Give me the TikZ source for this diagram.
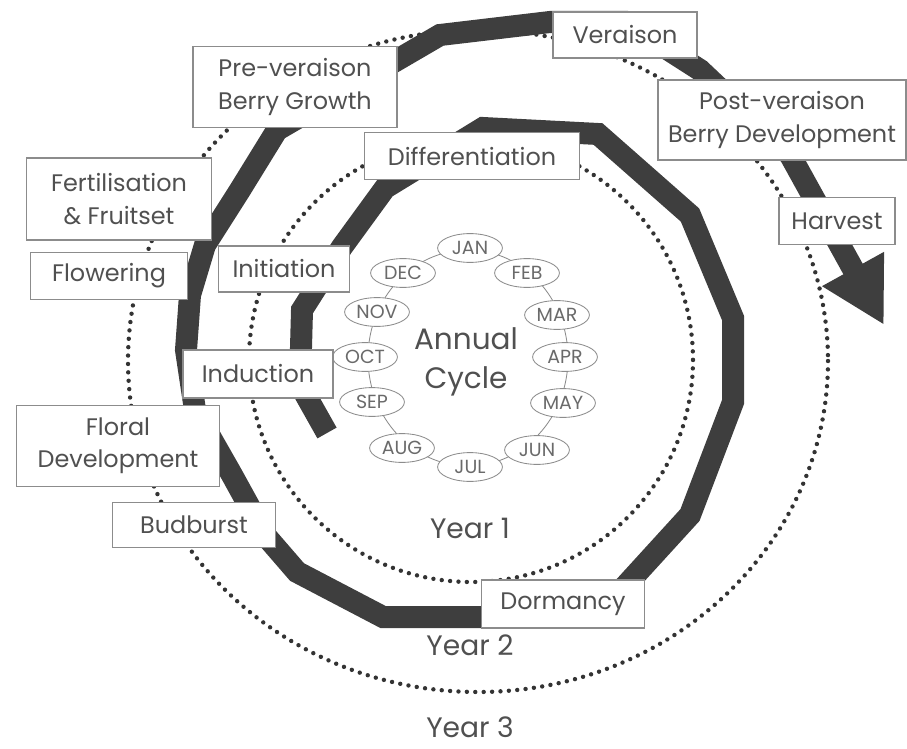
\documentclass[tikz,border=0pt]{standalone}
\usepackage{fontspec}
\setmainfont{Poppins}
\usetikzlibrary{arrows.meta,shapes.geometric}
\definecolor{bandgray}{RGB}{62,62,62}
\definecolor{textgray}{RGB}{80,80,80}
\definecolor{framegray}{RGB}{140,140,140}

\begin{document}
\begin{tikzpicture}[
			x=0.025cm,y=-0.025cm,
			stagebox/.style={
				draw=framegray,
				line width=0.8pt,
				fill=white,
				align=center,
				inner sep=2pt,
				text=textgray,
				font=\fontsize{17}{23}\selectfont
			},
			monthnode/.style={
				ellipse,
				draw=framegray,
				line width=0.6pt,
				fill=white,
				minimum width=1.62cm,
				minimum height=0.72cm,
				inner sep=0pt,
				text=textgray!85,
				font=\fontsize{13.5}{13.5}\selectfont
			},
			yearring/.style={
				draw=black!80,
				line width=0.11cm,
				line cap=round,
				dash pattern=on 0pt off 0.21cm
			},
			growthband/.style={
				draw=bandgray,
				line width=0.55cm,
				line join=miter
			},
			yearlabel/.style={
				text=textgray,
				font=\fontsize{20}{20}\selectfont
			}
			]
			
			\useasboundingbox (0,0) rectangle (907,749);
			
			% year boundaries
			\draw[yearring] (471,360) ellipse [x radius=222, y radius=222];
			\draw[yearring] (478,361) ellipse [x radius=350, y radius=331];
			
			% annual cycle of months
			\draw[framegray, line width=0.6pt] (468,358) ellipse [x radius=100, y radius=108];
			\foreach \m/\x/\y in {JAN/470/248, FEB/527/273, MAR/557/315, APR/565/357,
				MAY/563/403, JUN/537/450, JUL/470/467, AUG/402/448,
				SEP/372/402, OCT/365/357, NOV/377/312, DEC/403/273}
			\node[monthnode] (month\m) at (\x,\y) {\m};
			
			\node[text=textgray, align=center, font=\fontsize{21}{28}\selectfont]
			(annual) at (466,362) {Annual\\Cycle};
			
			% the growth spiral
			\draw[growthband, -{Triangle[length=1.6cm,width=1.65cm]}]
			(327,433) -- (300,385) -- (302,310) -- (342,247) -- (385,188)
			-- (483,128) -- (598,134) -- (690,215) -- (733,318) -- (733,402)
			-- (690,515) -- (617,595) -- (590,617) -- (383,617) -- (297,572)
			-- (265,535) -- (232,475) -- (195,410) -- (186,350) -- (190,295)
			-- (205,245) -- (240,190) -- (277,130) -- (440,35) -- (550,22)
			-- (625,22) -- (700,70) -- (790,155) -- (884,325);
			
			% stages
			\node[stagebox, minimum width=3.6cm, minimum height=1.15cm]
			(veraison) at (625,35) {Veraison};
			\node[stagebox, minimum width=6.2cm, minimum height=2cm]
			(postveraison) at (782,120) {Post-veraison\\Berry Development};
			\node[stagebox, minimum width=2.9cm, minimum height=1.18cm]
			(harvest) at (837,221) {Harvest};
			\node[stagebox, minimum width=5.1cm, minimum height=2.03cm]
			(preveraison) at (295,87) {Pre-veraison\\Berry Growth};
			\node[stagebox, minimum width=5.38cm, minimum height=1.18cm]
			(differentiation) at (472,156) {Differentiation};
			\node[stagebox, minimum width=4.63cm, minimum height=2.05cm]
			(fruitset) at (119,199) {Fertilisation\\\& Fruitset};
			\node[stagebox, minimum width=3.93cm, minimum height=1.18cm]
			(flowering) at (109,276) {Flowering};
			\node[stagebox, minimum width=3.28cm, minimum height=1.15cm]
			(initiation) at (284,269) {Initiation};
			\node[stagebox, minimum width=3.75cm, minimum height=1.2cm]
			(induction) at (258,374) {Induction};
			\node[stagebox, minimum width=5.08cm, minimum height=2.03cm]
			(floral) at (118,446) {Floral\\Development};
			\node[stagebox, minimum width=4.08cm, minimum height=1.13cm]
			(budburst) at (194,525) {Budburst};
			\node[stagebox, minimum width=4.08cm, minimum height=1.2cm]
			(dormancy) at (563,604) {Dormancy};
			
			% years
			\node[yearlabel] (year1) at (470,528) {Year 1};
			\node[yearlabel] (year2) at (470,645) {Year 2};
			\node[yearlabel, inner sep=0pt] (year3) at (470,727) {Year 3};
			
		\end{tikzpicture}
\end{document}
